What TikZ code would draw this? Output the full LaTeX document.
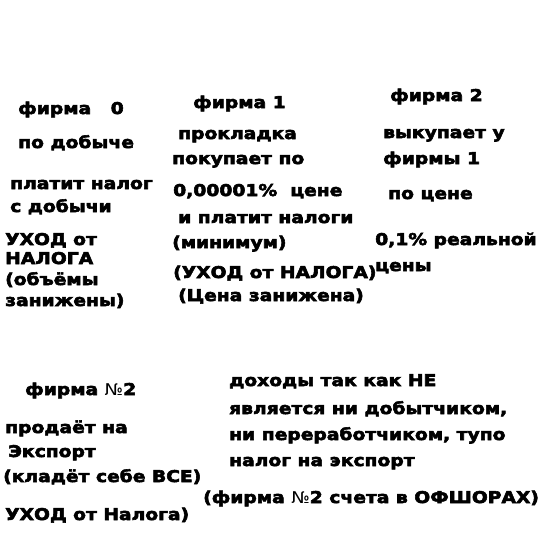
\documentclass[tikz,border=0pt]{standalone}
\usepackage{fontspec}
\setmainfont{DejaVu Sans}
\newfontfamily\heavy{DejaVu Sans Bold}[FakeStretch=1.155,FakeBold=3.5]
\newfontfamily\thinno{DejaVu Sans}[FakeStretch=1.1]
\newcommand{\Num}{{\thinno №}}
\begin{document}
\begin{tikzpicture}[x=1pt,y=1pt,
  lbl/.style={anchor=base west,inner sep=0pt,font=\heavy\fontsize{16.2}{18}\selectfont}]
\useasboundingbox[fill=white] (0,0) rectangle (542,-543);
% firm 0
\node[lbl] (a1) at (18,-114) {фирма\ \ \ 0};
\node[lbl] (a2) at (18,-148) {по добыче};
\node[lbl] (a3) at (10,-189) {платит налог};
\node[lbl] (a4) at (10,-212) {с добычи};
\node[lbl] (a5) at (5,-245) {УХОД от};
\node[lbl] (a6) at (5,-264) {НАЛОГА};
\node[lbl] (a7) at (5,-285) {(объёмы};
\node[lbl] (a8) at (5,-306) {занижены)};
% firm 1
\node[lbl] (b1) at (193,-108) {фирма 1};
\node[lbl] (b2) at (178,-139) {прокладка};
\node[lbl] (b3) at (172,-164) {покупает по};
\node[lbl] (b4) at (173,-196) {0,00001\%\ \ цене};
\node[lbl] (b5) at (178,-223) {и платит налоги};
\node[lbl] (b6) at (172,-248) {(минимум)};
\node[lbl] (b7) at (173,-278) {(УХОД от НАЛОГА)};
\node[lbl] (b8) at (178,-301) {(Цена занижена)};
% firm 2
\node[lbl] (c1) at (390,-101) {фирма 2};
\node[lbl] (c2) at (383,-138) {выкупает у};
\node[lbl] (c3) at (383,-164) {фирмы 1};
\node[lbl] (c4) at (388,-199) {по цене};
\node[lbl] (c5) at (375,-245) {0,1\% реальной};
\node[lbl] (c6) at (375,-271) {цены};
% bottom left
\node[lbl] (d1) at (25,-395) {фирма \Num2};
\node[lbl] (d2) at (5,-433) {продаёт на};
\node[lbl] (d3) at (8,-457) {Экспорт};
\node[lbl] (d4) at (3,-482) {(кладёт себе ВСЕ)};
\node[lbl] (d5) at (5,-520) {УХОД от Налога)};
% bottom right
\node[lbl] (e1) at (229,-386) {доходы так как НЕ};
\node[lbl] (e2) at (229,-414) {является ни добытчиком,};
\node[lbl] (e3) at (229,-440) {ни переработчиком, тупо};
\node[lbl] (e4) at (229,-466) {налог на экспорт};
\node[lbl] (e5) at (203,-503) {(фирма \Num2 счета в ОФШОРАХ)};
\end{tikzpicture}
\end{document}
